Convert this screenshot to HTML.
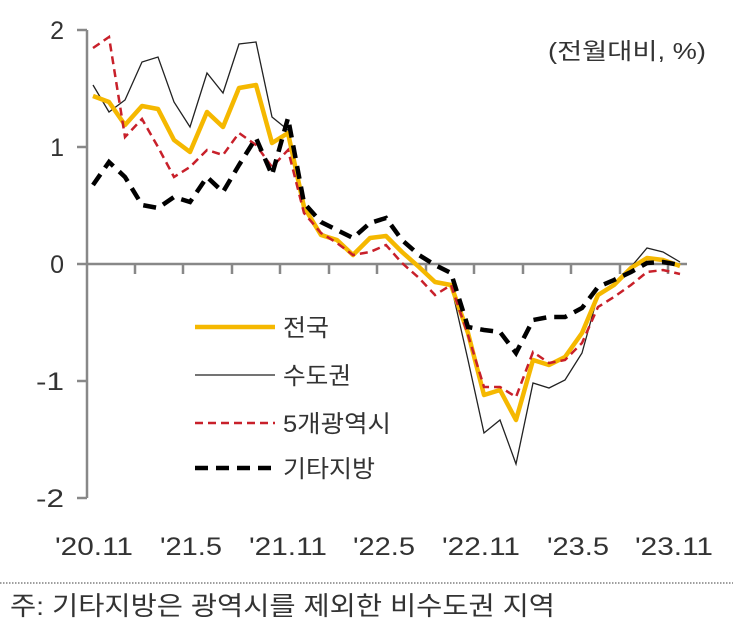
<!DOCTYPE html>
<html><head><meta charset="utf-8"><style>
html,body{margin:0;padding:0;background:#fff;width:733px;height:622px;overflow:hidden}
svg text{font-family:"Liberation Sans","Noto Sans CJK KR",sans-serif;fill:#333}
</style></head><body>
<svg width="733" height="622" viewBox="0 0 733 622" xmlns="http://www.w3.org/2000/svg">
<g stroke="#888" stroke-width="2.5" fill="none">
<line x1="87" y1="30" x2="87" y2="498"/>
<line x1="77" y1="30" x2="87" y2="30"/>
<line x1="77" y1="147" x2="87" y2="147"/>
<line x1="77" y1="264" x2="87" y2="264"/>
<line x1="77" y1="381" x2="87" y2="381"/>
<line x1="77" y1="498" x2="87" y2="498"/>
<line x1="87" y1="264" x2="687" y2="264"/>
<path d="M135 264v10M183 264v10M232 264v10M280 264v10M329 264v10M377 264v10M426 264v10M474 264v10M523 264v10M571 264v10M620 264v10M668 264v10"/>
</g>
<g font-size="25" text-anchor="end">
<text x="64" y="39">2</text><text x="64" y="156">1</text><text x="64" y="273">0</text>
<text x="64" y="390" textLength="28" lengthAdjust="spacingAndGlyphs">-1</text><text x="64" y="507" textLength="28" lengthAdjust="spacingAndGlyphs">-2</text>
</g>
<g font-size="25" text-anchor="middle">
<text x="94" y="555" textLength="78" lengthAdjust="spacingAndGlyphs">'20.11</text>
<text x="191" y="555" textLength="62" lengthAdjust="spacingAndGlyphs">'21.5</text>
<text x="288" y="555" textLength="78" lengthAdjust="spacingAndGlyphs">'21.11</text>
<text x="384" y="555" textLength="62" lengthAdjust="spacingAndGlyphs">'22.5</text>
<text x="481" y="555" textLength="78" lengthAdjust="spacingAndGlyphs">'22.11</text>
<text x="578" y="555" textLength="62" lengthAdjust="spacingAndGlyphs">'23.5</text>
<text x="674" y="555" textLength="78" lengthAdjust="spacingAndGlyphs">'23.11</text>
</g>
<text x="548" y="59" font-size="23" textLength="158" lengthAdjust="spacingAndGlyphs">(전월대비, %)</text>

<polyline fill="none" stroke="#222" stroke-width="1.3" points="93,85 109,112 125,100 142,62 158,57 174,102 190,127 207,73 223,93 239,44 256,42 272,117 288,130 304,210 321,233 337,240 353,255 370,237 386,235 402,252 419,267 435,282 451,285 468,360 484,433 500,420 516,464 533,383 549,388 565,380 582,353 598,295 614,285 631,267 647,248 663,252 680,262"/>
<polyline fill="none" stroke="#F5B800" stroke-width="4.5" stroke-linejoin="round" points="93,96 109,102 125,125 142,106 158,109 174,140 190,152 207,112 223,127 239,88 256,85 272,143 288,133 304,207 321,235 337,240 353,255 370,238 386,236 402,252 419,267 435,282 451,285 468,333 484,395 500,390 516,420 533,360 549,365 565,357 582,333 598,295 614,285 631,268 647,258 663,260 680,266"/>
<polyline fill="none" stroke="#C8202A" stroke-width="2.5" stroke-dasharray="8,5" points="93,48 109,37 125,137 142,119 158,147 174,177 190,167 207,150 223,155 239,133 256,145 272,167 288,150 304,213 321,233 337,243 353,255 370,252 386,245 402,263 419,278 435,295 451,285 468,335 484,387 500,387 516,397 533,352 549,363 565,360 582,343 598,307 614,297 631,285 647,272 663,270 680,274"/>
<polyline fill="none" stroke="#000" stroke-width="4.5" stroke-dasharray="13,8" points="93,185 109,162 125,177 142,205 158,208 174,197 190,202 207,177 223,192 239,165 256,138 272,175 288,118 304,203 321,222 337,230 353,238 370,223 386,218 402,240 419,255 435,265 451,273 468,327 484,330 500,332 516,353 533,320 549,317 565,317 582,308 598,287 614,280 631,272 647,263 663,262 680,265"/>

<line x1="195" y1="327" x2="275" y2="327" stroke="#F5B800" stroke-width="4.5"/>
<line x1="195" y1="375" x2="275" y2="375" stroke="#222" stroke-width="1.3"/>
<line x1="195" y1="423" x2="275" y2="423" stroke="#C8202A" stroke-width="2.5" stroke-dasharray="8,5"/>
<line x1="195" y1="468" x2="275" y2="468" stroke="#000" stroke-width="4.5" stroke-dasharray="13,8"/>
<g font-size="24">
<text x="283" y="336" textLength="46" lengthAdjust="spacingAndGlyphs">전국</text>
<text x="283" y="384" textLength="68" lengthAdjust="spacingAndGlyphs">수도권</text>
<text x="283" y="432" textLength="108" lengthAdjust="spacingAndGlyphs">5개광역시</text>
<text x="283" y="477" textLength="92" lengthAdjust="spacingAndGlyphs">기타지방</text>
</g>
<line x1="0" y1="583" x2="733" y2="583" stroke="#666" stroke-width="1.2" stroke-dasharray="1.5,1.5"/>
<text x="10" y="615" font-size="26" textLength="545" lengthAdjust="spacingAndGlyphs">주: 기타지방은 광역시를 제외한 비수도권 지역</text>
</svg>
</body></html>
